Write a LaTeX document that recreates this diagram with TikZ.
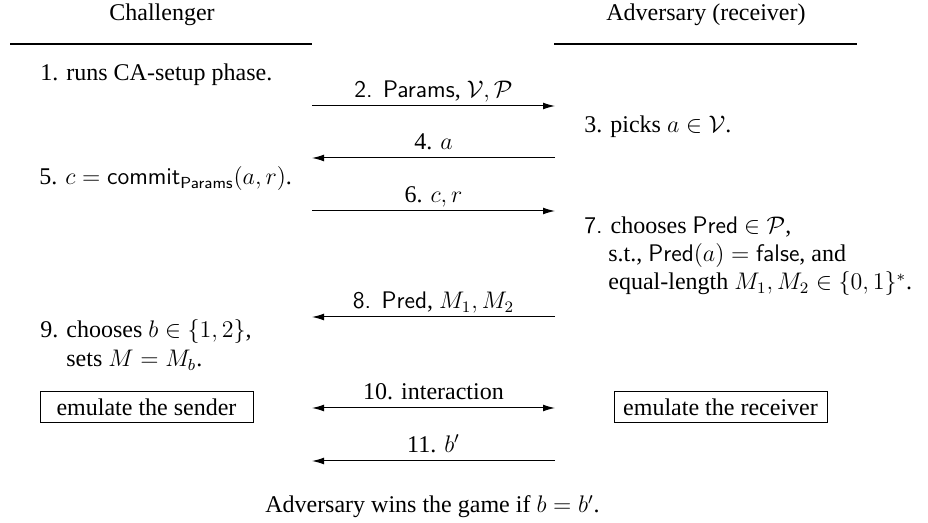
\documentclass[tikz,border=0pt]{standalone}
\usepackage{amsmath}
\usepackage[no-math]{fontspec}
\setmainfont{Liberation Serif}
\usetikzlibrary{arrows.meta}
\newcommand{\sfx}[1]{\textsf{#1}}
\begin{document}
\begin{tikzpicture}[x=0.5pt,y=-0.5pt,
  every node/.style={font=\fontsize{12}{14}\selectfont, inner sep=0pt},
  txt/.style={anchor=base west},
  hdr/.style={anchor=base},
  rule/.style={line width=0.8pt},
  msg/.style={line width=0.5pt, -{Latex[length=6pt,width=3.4pt]}},
  bimsg/.style={line width=0.5pt, {Latex[length=6pt,width=3.4pt]}-{Latex[length=6pt,width=3.4pt]}},
  lbl/.style={anchor=base, yshift=4.2pt},
  emu/.style={draw, line width=0.5pt, minimum width=106.5pt, minimum height=15.5pt}]
\useasboundingbox (0,0) rectangle (928,523);

% headers
\node[hdr] (ch) at (162,21) {Challenger};
\node[hdr] (ad) at (706,21) {Adversary (receiver)};
\coordinate (chl) at (10,44);  \coordinate (chr) at (312,44);
\coordinate (adl) at (554,44); \coordinate (adr) at (857,44);
\draw[rule] (chl) -- (chr);
\draw[rule] (adl) -- (adr);

% challenger side texts
\node[txt] (t1) at (40,81) {1. runs CA-setup phase.};
\node[txt] (t5) at (39,185) {5. $c = \text{\sfx{commit}}_{\text{\sfx{Params}}}(a, r)$.};
\node[txt] (t9a) at (40,338) {9. chooses $b \in \{1,2\}$,};
\node[txt] (t9b) at (66,367) {sets $M = M_b$.};

% adversary side texts
\node[txt] (t3) at (584,133) {3. picks $a \in \mathcal{V}$.};
\node[txt] (t7a) at (584,234) {\sfx{7.} chooses \sfx{Pred} $\in \mathcal{P}$,};
\node[txt] (t7b) at (608,262) {s.t., $\text{\sfx{Pred}}(a) = \text{\sfx{false}}$, and};
\node[txt] (t7c) at (608,290) {equal-length $M_1, M_2 \in \{0,1\}^*$.};

% boxes
\node[emu] (snd) at (146.5,407.5) {emulate the sender};
\node[emu] (rcv) at (720.5,407.5) {emulate the receiver};

% message endpoints
\coordinate (a2l) at (312,106);  \coordinate (a2r) at (555,106);
\coordinate (a4l) at (312,158);  \coordinate (a4r) at (555,158);
\coordinate (a6l) at (312,211);  \coordinate (a6r) at (555,211);
\coordinate (a8l) at (312,317);  \coordinate (a8r) at (555,317);
\coordinate (a10l) at (312,408); \coordinate (a10r) at (555,408);
\coordinate (a11l) at (312,461); \coordinate (a11r) at (555,461);

\draw[msg] (a2l) -- node[lbl] (l2) {\sfx{2. Params}, $\mathcal{V}, \mathcal{P}$} (a2r);
\draw[msg] (a4r) -- node[lbl] (l4) {4. $a$} (a4l);
\draw[msg] (a6l) -- node[lbl] (l6) {6. $c, r$} (a6r);
\draw[msg] (a8r) -- node[lbl] (l8) {\sfx{8. Pred}, $M_1, M_2$} (a8l);
\draw[bimsg] (a10l) -- node[lbl] (l10) {10. interaction} (a10r);
\draw[msg] (a11r) -- node[lbl] (l11) {11. $b'$} (a11l);

% conclusion
\node[hdr] (win) at (432.5,513) {Adversary wins the game if $b = b'$.};
\end{tikzpicture}
\end{document}
